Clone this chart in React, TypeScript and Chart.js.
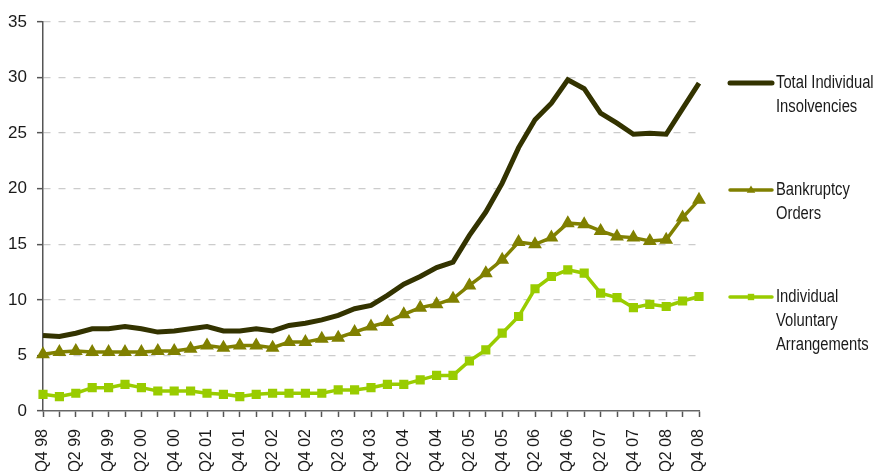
import React, { useEffect, useRef } from "react";
import { Chart, registerables } from "chart.js";
Chart.register(...registerables);

const quarters = ["Q4 98","Q1 99","Q2 99","Q3 99","Q4 99","Q1 00","Q2 00","Q3 00","Q4 00","Q1 01","Q2 01","Q3 01","Q4 01","Q1 02","Q2 02","Q3 02","Q4 02","Q1 03","Q2 03","Q3 03","Q4 03","Q1 04","Q2 04","Q3 04","Q4 04","Q1 05","Q2 05","Q3 05","Q4 05","Q1 06","Q2 06","Q3 06","Q4 06","Q1 07","Q2 07","Q3 07","Q4 07","Q1 08","Q2 08","Q3 08","Q4 08"];

const totalInsolvencies = [6.8,6.7,7.0,7.4,7.4,7.6,7.4,7.1,7.2,7.4,7.6,7.2,7.2,7.4,7.2,7.7,7.9,8.2,8.6,9.2,9.5,10.4,11.4,12.1,12.9,13.4,15.8,17.9,20.5,23.7,26.2,27.7,29.8,29.0,26.8,25.9,24.9,25.0,24.9,27.2,29.5];
const bankruptcyOrders = [5.1,5.3,5.4,5.3,5.3,5.3,5.3,5.4,5.4,5.6,5.9,5.7,5.9,5.9,5.7,6.2,6.2,6.5,6.6,7.1,7.6,8.0,8.7,9.3,9.6,10.1,11.3,12.4,13.6,15.2,15.0,15.6,16.9,16.8,16.2,15.7,15.6,15.3,15.4,17.4,19.0];
const ivas = [1.5,1.3,1.6,2.1,2.1,2.4,2.1,1.8,1.8,1.8,1.6,1.5,1.3,1.5,1.6,1.6,1.6,1.6,1.9,1.9,2.1,2.4,2.4,2.8,3.2,3.2,4.5,5.5,7.0,8.5,11.0,12.1,12.7,12.4,10.6,10.2,9.3,9.6,9.4,9.9,10.3];

const legendLabels = [
  ["Total Individual", "Insolvencies"],
  ["Bankruptcy", "Orders"],
  ["Individual", "Voluntary", "Arrangements"],
];

const FONT = "'Liberation Sans', Arial, sans-serif";

const legendPlugin = {
  id: "sideLegend",
  afterDraw(chart: any) {
    const ctx = chart.ctx;
    const ys = [83, 190, 297];
    const x0 = 730, x1 = 772, tx = 776, lh = 24;
    chart.data.datasets.forEach((ds: any, i: number) => {
      const y = ys[i];
      ctx.save();
      ctx.strokeStyle = ds.borderColor;
      ctx.lineWidth = ds.borderWidth;
      ctx.lineCap = "round";
      ctx.beginPath();
      ctx.moveTo(x0, y);
      ctx.lineTo(x1, y);
      ctx.stroke();
      if (ds.pointStyle && ds.pointRadius > 0) {
        ctx.fillStyle = ds.pointBackgroundColor;
        const r = ds.pointRadius;
        const cx = (x0 + x1) / 2;
        if (ds.pointStyle === "triangle") {
          ctx.beginPath();
          ctx.moveTo(cx, y - r);
          ctx.lineTo(cx + r * 0.95, y + r * 0.6);
          ctx.lineTo(cx - r * 0.95, y + r * 0.6);
          ctx.closePath();
          ctx.fill();
        } else {
          ctx.fillRect(cx - r * 0.8, y - r * 0.8, r * 1.6, r * 1.6);
        }
      }
      ctx.restore();
      ctx.save();
      ctx.fillStyle = "#1a1a1a";
      ctx.font = `18px ${FONT}`;
      ctx.textBaseline = "middle";
      ctx.textAlign = "left";
      ctx.translate(tx, 0);
      ctx.scale(0.82, 1);
      legendLabels[i].forEach((t, k) => ctx.fillText(t, 0, y + k * lh));
      ctx.restore();
    });
  },
};

export default function App() {
  const ref = useRef<HTMLCanvasElement>(null);
  useEffect(() => {
    const chart = new Chart(ref.current!, {
      type: "line",
      data: {
        labels: quarters,
        datasets: [
          {
            label: "Total Individual Insolvencies",
            data: totalInsolvencies,
            borderColor: "#333300",
            backgroundColor: "#333300",
            borderWidth: 5,
            pointRadius: 0,
            tension: 0,
          },
          {
            label: "Bankruptcy Orders",
            data: bankruptcyOrders,
            borderColor: "#808000",
            backgroundColor: "#808000",
            pointBackgroundColor: "#808000",
            pointBorderColor: "#808000",
            borderWidth: 3.5,
            pointStyle: "triangle",
            pointRadius: 4.5,
            tension: 0,
          },
          {
            label: "Individual Voluntary Arrangements",
            data: ivas,
            borderColor: "#99cc00",
            backgroundColor: "#99cc00",
            pointBackgroundColor: "#99cc00",
            pointBorderColor: "#99cc00",
            borderWidth: 3.5,
            pointStyle: "rect",
            pointRadius: 4,
            tension: 0,
          },
        ],
      },
      options: {
        animation: false,
        responsive: false,
        layout: { padding: { top: 22, right: 179, left: 0, bottom: 0 } },
        plugins: { legend: { display: false }, tooltip: { enabled: false } },
        scales: {
          x: {
            offset: false,
            grid: {
              drawOnChartArea: false,
              drawTicks: true,
              tickLength: 6,
              tickColor: "#555555",
              tickWidth: 1.5,
            },
            border: { color: "#666666", width: 1.5 },
            ticks: {
              autoSkip: false,
              maxRotation: 90,
              minRotation: 90,
              padding: 12,
              color: "#1a1a1a",
              font: { size: 16, family: FONT },
              callback: (_v: any, i: number) => (i % 2 === 0 ? quarters[i] : ""),
            },
            afterFit: (s: any) => {
              s.height = 60;
            },
          },
          y: {
            min: 0,
            max: 35,
            grid: {
              color: (c: any) => (c.tick && c.tick.value === 0 ? "rgba(0,0,0,0)" : "#cccccc"),
              tickBorderDash: [],
              tickColor: "#555555",
              tickLength: 6,
              tickWidth: 1.5,
              lineWidth: 1.3,
            },
            border: { color: "#555555", width: 1.5, dash: [7, 8] },
            ticks: {
              stepSize: 5,
              padding: 10,
              color: "#1a1a1a",
              font: { size: 17, family: FONT },
            },
            afterFit: (s: any) => {
              s.width = 43;
            },
          },
        },
      },
      plugins: [legendPlugin],
    } as any);
    return () => chart.destroy();
  }, []);
  return (
    <div style={{ position: "fixed", left: 0, top: 0, width: 878, height: 471, background: "#fff" }}>
      <canvas ref={ref} width={878} height={471} />
    </div>
  );
}
